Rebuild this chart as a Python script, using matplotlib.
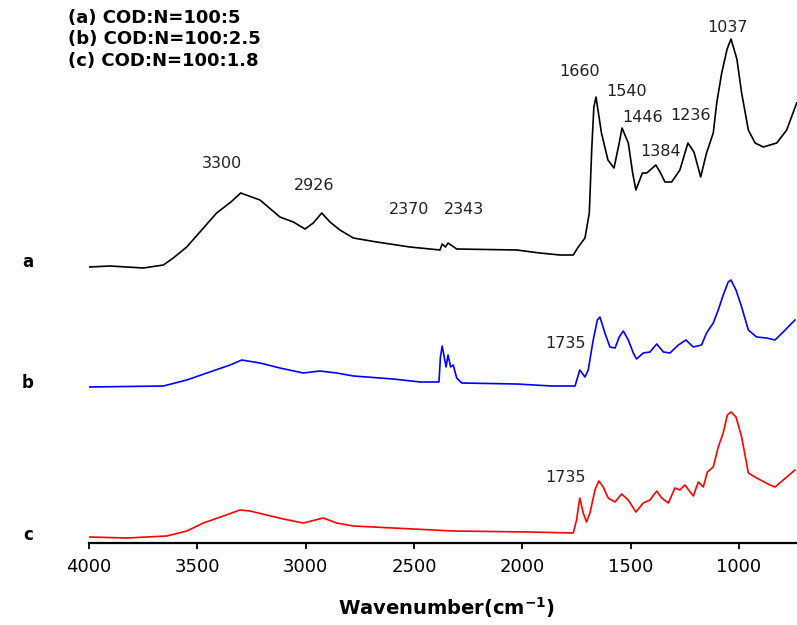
import matplotlib
matplotlib.use("Agg")
import matplotlib.pyplot as plt

# FTIR spectra, stacked (a) top, (b) middle, (c) bottom
wn_a = [3999, 3903, 3749, 3657, 3611, 3549, 3488, 3411, 3345, 3300, 3211, 3119,
        3057, 3003, 2965, 2926, 2888, 2842, 2780, 2672, 2519, 2426, 2380, 2370,
        2355, 2343, 2303, 2026, 1919, 1826, 1765, 1742, 1711, 1691, 1680, 1670,
        1660, 1635, 1605, 1577, 1553, 1540, 1511, 1491, 1476, 1446, 1426, 1384,
        1362, 1342, 1311, 1273, 1236, 1208, 1177, 1150, 1119, 1103, 1080, 1055,
        1037, 1010, 988, 957, 926, 888, 826, 780, 734]
int_a = [276, 277, 275, 278, 285, 296, 311, 330, 341, 350, 343, 326,
         321, 314, 320, 330, 321, 313, 305, 301, 296, 294, 293, 299,
         296, 300, 294, 293, 290, 288, 288, 296, 305, 330, 393, 436,
         446, 410, 383, 375, 400, 415, 400, 370, 353, 370, 370, 378,
         370, 361, 361, 373, 400, 391, 366, 390, 410, 440, 470, 494,
         504, 484, 450, 413, 400, 396, 400, 413, 440]

wn_b = [3999, 3657, 3549, 3442, 3349, 3295, 3211, 3119, 3011, 2934, 2857, 2780,
        2596, 2472, 2385, 2378, 2370, 2352, 2343, 2331, 2319, 2303, 2280, 2026,
        1865, 1757, 1735, 1711, 1696, 1673, 1654, 1642, 1619, 1596, 1572, 1553,
        1534, 1511, 1488, 1473, 1442, 1411, 1380, 1349, 1319, 1280, 1245, 1211,
        1173, 1150, 1119, 1096, 1073, 1050, 1037, 1014, 988, 957, 919, 873,
        834, 796, 742]
int_b = [156, 157, 163, 171, 178, 183, 180, 175, 170, 172, 170, 167,
         164, 161, 161, 186, 197, 176, 188, 176, 178, 165, 160, 159,
         157, 157, 173, 166, 173, 203, 223, 226, 210, 196, 195, 206,
         212, 203, 190, 184, 190, 191, 199, 191, 190, 198, 203, 196,
         198, 210, 220, 233, 248, 261, 263, 253, 236, 213, 206, 205,
         203, 211, 223]

wn_c = [3999, 3826, 3641, 3549, 3472, 3380, 3303, 3257, 3180, 3103, 3011, 2919,
        2857, 2780, 2596, 2411, 2319, 1965, 1765, 1750, 1735, 1719, 1704, 1688,
        1665, 1647, 1627, 1604, 1572, 1542, 1511, 1476, 1442, 1411, 1380, 1357,
        1326, 1296, 1273, 1250, 1211, 1188, 1165, 1146, 1119, 1096, 1073, 1054,
        1037, 1014, 988, 957, 919, 857, 834, 796, 742]
int_c = [6, 5, 7, 12, 20, 27, 33, 32, 28, 24, 20, 25,
         20, 17, 15, 13, 12, 11, 10, 23, 45, 30, 21, 30,
         53, 62, 56, 45, 41, 49, 43, 31, 40, 43, 52, 45,
         40, 55, 53, 58, 47, 61, 56, 71, 76, 96, 110, 128,
         131, 126, 106, 70, 65, 58, 56, 63, 73]

peak_labels = ["3300", "2926", "2370", "2343", "1660", "1540", "1446", "1236",
               "1384", "1037", "1735", "1735"]
peak_xy = [(3386, 379), (2962, 357), (2523, 334), (2269, 334), (1734, 471),
           (1517, 451), (1443, 425), (1222, 428), (1360, 392), (1051, 515),
           (1799, 200), (1803, 65)]

legend_lines = ["(a) COD:N=100:5", "(b) COD:N=100:2.5", "(c) COD:N=100:1.8"]
curve_tags = ["a", "b", "c"]
xticks = [4000, 3500, 3000, 2500, 2000, 1500, 1000]

W, H = 797, 625
fig = plt.figure(figsize=(W / 100, H / 100), dpi=100)
ax = fig.add_axes([89 / W, 82 / H, 708 / W, 543 / H])

ax.plot(wn_a, int_a, color="black", lw=1.2)
ax.plot(wn_b, int_b, color="#0000ff", lw=1.2)
ax.plot(wn_c, int_c, color="#ff0000", lw=1.2)

for s, (x, y) in zip(peak_labels, peak_xy):
    ax.text(x, y, s, ha="center", va="center", fontsize=11.5, color="#222222")

ax.set_xlim(4000, 732.5)
ax.set_ylim(0, 543)
ax.set_yticks([])
ax.set_xticks(xticks)
ax.tick_params(axis="x", direction="out", length=4, width=1.3, labelsize=13, pad=7)
for side in ["top", "right", "left"]:
    ax.spines[side].set_visible(False)
ax.spines["bottom"].set_linewidth(1.6)

for i, s in enumerate(legend_lines):
    fig.text(68 / W, 1 - [18, 39, 61][i] / H, s, fontsize=13, fontweight="bold",
             va="center", ha="left")

for s, py in zip(curve_tags, [262, 383, 535]):
    fig.text(28 / W, 1 - py / H, s, fontsize=12, fontweight="bold", va="center", ha="center")

fig.text(447 / W, 1 - 608 / H, r"Wavenumber(cm$^{\mathbf{-1}}$)", fontsize=14,
         fontweight="bold", ha="center", va="center")

fig.savefig("out.png", dpi=100)
